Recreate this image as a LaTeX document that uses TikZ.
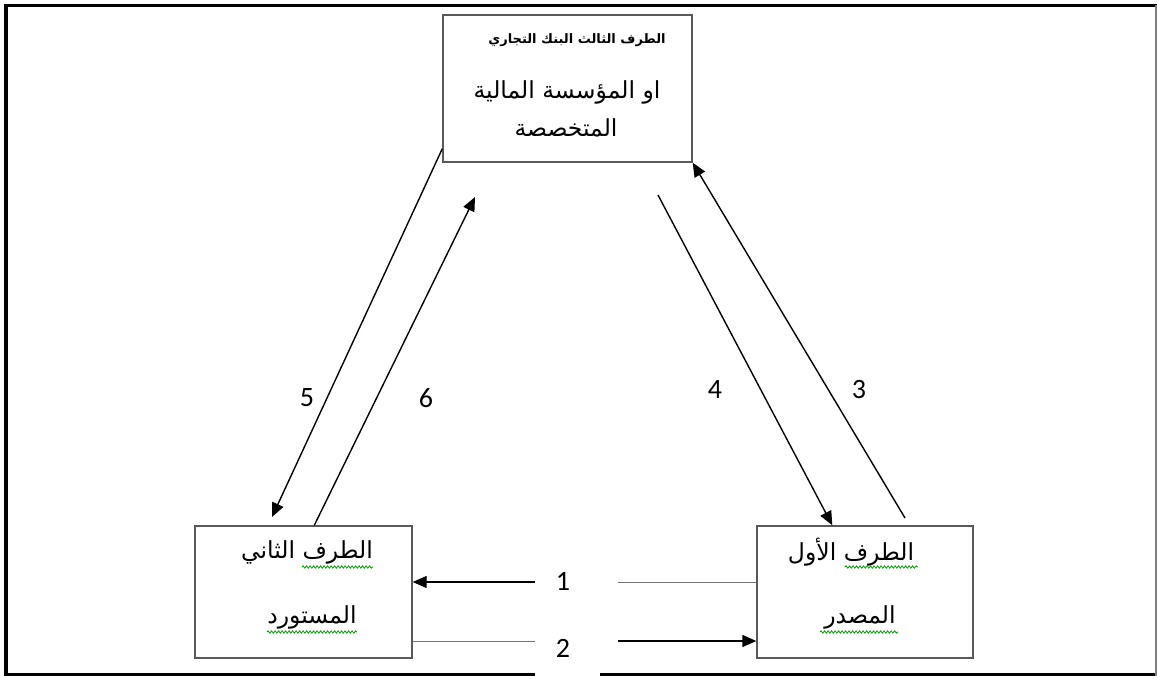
\documentclass[tikz,border=0pt]{standalone}
\usepackage{fontspec}
\setmainfont{Carlito}
\newfontfamily\arabicfont[Script=Arabic]{DejaVu Sans}
\TeXXeTstate=1
\usetikzlibrary
  {
    arrows.meta,              % triangle arrow heads
    decorations.pathmorphing, % wavy underlines
  }

\begin{document}
\begin{tikzpicture}
    [
      x=1pt,
      y=-1pt,
      party/.style=
        {
          rectangle,
          draw=black!65,
          line width=1.4pt,
          inner sep=0pt,
        },
      partytext/.style=
        {
          inner sep=0pt,
          font=\arabicfont\fontsize{23.5}{27}\selectfont,
        },
      stepnum/.style=
        {
          inner sep=0pt,
          font=\fontsize{28}{32}\selectfont,
        },
      flow/.style=
        {
          line width=1.4pt,
          -{Triangle[length=14pt,width=12pt]},
        },
      plain/.style=
        {
          line width=1pt,
          black!55,
        },
      squiggle/.style=
        {
          green!60!black,
          line width=0.8pt,
          decorate,
          decoration={snake,segment length=3.5pt,amplitude=1.2pt},
        }
    ]
    \useasboundingbox (0,0) rectangle (1157,676);

    % outer frame
    \draw [line width=3.5pt] (535,674.5) -| (6,5.5) -- (1157,5.5);
    \draw [line width=3.5pt] (600,674.5) -- (1157,674.5);
    \draw [black!50, line width=2pt] (1156,5) -- (1156,676);

    % the three parties
    \node (bank) [party, minimum width=249pt, minimum height=147pt] at (567.5,88.5) {};
    \node (importer) [party, minimum width=217pt, minimum height=132pt] at (303.5,592) {};
    \node (exporter) [party, minimum width=216pt, minimum height=132pt] at (865,592) {};

    \node (bank1) [partytext, font=\arabicfont\bfseries\fontsize{13}{15}\selectfont] at (577,40)
      {\beginR الطرف الثالث البنك التجاري\endR};
    \node (bank2) [partytext] at (567,92) {\beginR او المؤسسة المالية\endR};
    \node (bank3) [partytext] at (566,128) {\beginR المتخصصة\endR};
    \node (importer1) [partytext] at (307,552) {\beginR الطرف الثاني\endR};
    \node (importer2) [partytext] at (312,617) {\beginR المستورد\endR};
    \node (exporter1) [partytext] at (851,552) {\beginR الطرف الأول\endR};
    \node (exporter2) [partytext] at (860,617) {\beginR المصدر\endR};

    % spelling marks
    \draw [squiggle] (302,567) -- (373,567);
    \draw [squiggle] (267,632) -- (357,632);
    \draw [squiggle] (845,567) -- (918,567);
    \draw [squiggle] (820,632) -- (898,632);

    % free ends of the connectors
    \coordinate (tip5) at (272,517);
    \coordinate (tip6) at (475,197);
    \coordinate (tail3) at (905,518);
    \coordinate (tail4) at (658,195);
    \coordinate (gap1l) at (535,582);
    \coordinate (gap1r) at (618,582);
    \coordinate (gap2l) at (535,641);
    \coordinate (gap2r) at (618,641);

    \draw [flow] ([yshift=14pt]bank.south west) -- (tip5);
    \draw [flow] ([xshift=120pt]importer.north west) -- (tip6);
    \draw [flow] (tail3) -- (bank.south east);
    \draw [flow] (tail4) -- ([xshift=76pt]exporter.north west);

    \draw [plain] (gap1r) -- (gap1r -| exporter.west);
    \draw [flow] (gap1l) -- (gap1l -| importer.east);
    \draw [plain] (gap2l -| importer.east) -- (gap2l);
    \draw [flow] (gap2r) -- (gap2r -| exporter.west);

    % step numbers
    \node (n1) [stepnum] at (563,581) {1};
    \node (n2) [stepnum] at (563,648) {2};
    \node (n3) [stepnum] at (859,390) {3};
    \node (n4) [stepnum] at (715,390) {4};
    \node (n5) [stepnum] at (307,398) {5};
    \node (n6) [stepnum] at (426,398) {6};
\end{tikzpicture}
\end{document}
